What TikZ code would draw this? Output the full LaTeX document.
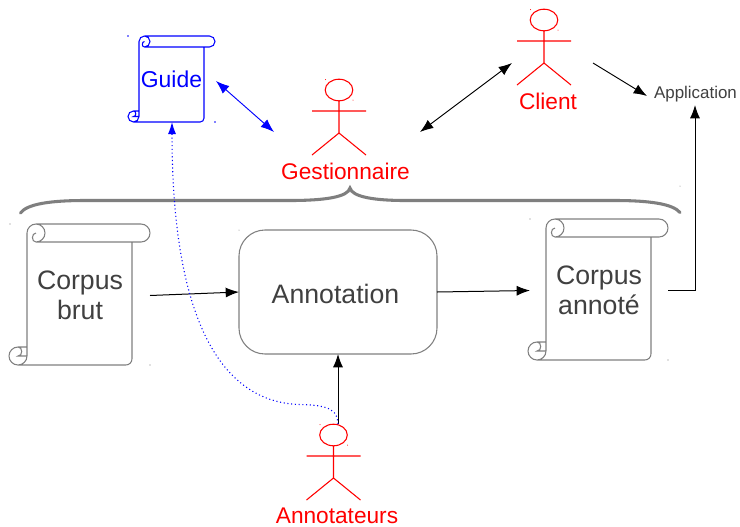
\documentclass[tikz,border=0pt]{standalone}
\usepackage{fontspec}
\setmainfont{Liberation Sans}
\usetikzlibrary{arrows.meta}
\definecolor{txtgray}{HTML}{404040}
\definecolor{linegray}{HTML}{808080}
\definecolor{bracegray}{HTML}{7F7F7F}
\tikzset{
  box/.style 2 args={draw=none,inner sep=0pt,outer sep=0pt,minimum width=#1*0.75pt,minimum height=#2*0.75pt,align=center},
  bigtxt/.style={font=\fontsize{20pt}{22.4pt}\selectfont,text=txtgray},
  redtxt/.style={font=\fontsize{17pt}{20pt}\selectfont,text=red,inner sep=0pt},
  tip/.style={-{Latex[length=10pt,width=7.5pt]}},
  twotip/.style={{Latex[length=10pt,width=7.5pt]}-{Latex[length=10pt,width=7.5pt]}},
  flow/.style={black,line width=0.75pt}
}
% scroll: L R T B barRight radius colour width
\newcommand{\scrollshape}[8]{%
  \draw[#7,line width=#8]
    (#1+#6,#3) -- (#5-#6,#3)
    .. controls (#5-#6*0.45,#3) and (#5,#3+#6*0.45) .. (#5,#3+#6)
    .. controls (#5,#3+#6*1.55) and (#5-#6*0.45,#3+#6*2) .. (#5-#6,#3+#6*2)
    -- (#1+#6,#3+#6*2)
    .. controls (#1+#6*0.45,#3+#6*2) and (#1+#6*0.5,#3+#6) .. (#1+#6,#3+#6)
    (#1+#6,#3)
    .. controls (#1+#6*1.55,#3) and (#1+#6*2,#3+#6*0.45) .. (#1+#6*2,#3+#6)
    .. controls (#1+#6*2,#3+#6*1.55) and (#1+#6*1.55,#3+#6*2) .. (#1+#6,#3+#6*2)
    (#1+#6,#3)
    .. controls (#1+#6*0.45,#3) and (#1,#3+#6*0.45) .. (#1,#3+#6)
    -- (#1,#4-#6)
    (#2,#3+#6*2) -- (#2,#4-#6*0.7)
    .. controls (#2,#4-#6*0.3) and (#2-#6*0.3,#4) .. (#2-#6*0.7,#4)
    -- (#1-#6,#4)
    .. controls (#1-#6*1.55,#4) and (#1-#6*2,#4-#6*0.45) .. (#1-#6*2,#4-#6)
    .. controls (#1-#6*2,#4-#6*1.55) and (#1-#6*1.55,#4-#6*2) .. (#1-#6,#4-#6*2)
    -- (#1,#4-#6*2)
    (#1-#6,#4-#6*2)
    .. controls (#1-#6*0.45,#4-#6*2) and (#1-#6*0.45,#4-#6) .. (#1-#6,#4-#6)
    -- (#1,#4-#6)
    (#1,#4-#6)
    .. controls (#1,#4-#6*0.45) and (#1-#6*0.45,#4) .. (#1-#6,#4);
}
% actor: centre x, head top y
\newcommand{\actorshape}[2]{%
  \draw[red,line width=0.8pt]
    (#1,#2+11) ellipse [x radius=13.8,y radius=10.8]
    (#1,#2+22) -- (#1,#2+54)
    (#1-27,#2+32) -- (#1+27,#2+32)
    (#1-27,#2+76) -- (#1,#2+54) -- (#1+27,#2+76);
  \fill[red] (#1-13.5,#2+0.5) circle (0.5) (#1+14,#2+21) circle (0.5);
}
\begin{document}
\begin{tikzpicture}[x=0.75pt,y=-0.75pt]
\useasboundingbox (0,0) rectangle (740,526);
\fill[white] (0,0) rectangle (740,526);

% brace
\draw[bracegray,line width=2.3pt,line cap=round]
  (20.5,213) .. controls (27,204) and (50,200.5) .. (85,200.5)
  -- (290,200.5) .. controls (325,200.5) and (348,197) .. (350,188)
  .. controls (352,197) and (375,200.5) .. (405,200.5)
  -- (615,200.5) .. controls (650,200.5) and (673,204) .. (680,212.5);

% scrolls
\scrollshape{27}{132}{224}{365}{150}{9}{linegray}{0.8pt}
\scrollshape{546}{651}{219}{360}{668}{9}{linegray}{0.8pt}
\scrollshape{139}{204}{36}{122}{215}{5.5}{blue}{0.8pt}

\node[box={140}{141},bigtxt] (brut) at (80,295.5) {Corpus\\brut};
\node[box={138}{141},bigtxt] (annote) at (599,290.5) {Corpus\\annoté};
\node[box={87}{86},font=\fontsize{17.2pt}{20pt}\selectfont,text=blue] (guide) at (171.5,79.5) {Guide};

% annotation box
\node[box={198}{124},draw=linegray,line width=0.8pt,rounded corners=19.5pt] (annotation) at (338,292) {};
\node[bigtxt,inner sep=0pt] (annotationlabel) at (335.5,293.5) {Annotation};

% actors
\actorshape{339}{79}
\actorshape{544}{9}
\actorshape{333.5}{424}
\node[box={54}{76}] (gestionnaire) at (339,117) {};
\node[box={54}{76}] (client) at (544,47) {};
\node[box={54}{76}] (annotateurs) at (333.5,462) {};
\node[redtxt] (gestlabel) at (345.5,171) {Gestionnaire};
\node[redtxt] (clientlabel) at (548,101.5) {Client};
\node[redtxt] (annotlabel) at (337,515.5) {Annotateurs};
\node[font=\fontsize{12.7pt}{15pt}\selectfont,text=txtgray,inner sep=0pt] (application) at (695.5,94.5) {Application};

% free ends of connectors
\coordinate (guidearrow) at (216,81);
\coordinate (gestleft) at (274,132);
\coordinate (gestright) at (420,132);
\coordinate (clientleft) at (512,63);
\coordinate (clientright) at (593,63);
\coordinate (appleft) at (647,96);
\coordinate (appbelow) at (695,105);
\coordinate (annotatop) at (338,424);

% connectors
\draw[flow,tip] (brut.east) -- (annotation.west);
\draw[flow,tip] (annotation.east) -- (annote.west);
\draw[flow,tip] (annote.east) -- (appbelow |- annote.east) -- (appbelow);
\draw[flow,tip] (annotatop) -- (annotation.south);
\draw[black,line width=0.7pt,tip] (clientright) -- (appleft);
\draw[black,line width=0.7pt,twotip] (gestright) -- (clientleft);
\draw[blue,line width=0.7pt,twotip] (guidearrow) -- (gestleft);
\draw[blue,line width=0.8pt,dotted,-{Latex[length=9pt,width=6pt,sep=0pt]}]
  (annotatop) .. controls (337,412) and (333,405) .. (300,404.5)
  .. controls (235,403) and (172,345) .. (172,122);

% selection specks
\fill[linegray] (10,224) circle (0.7) (150,365) circle (0.7) (530,219) circle (0.7) (668,360) circle (0.7) (239,230) circle (0.5) (680,186) circle (0.5);
\fill[blue] (128,36) circle (0.8) (215,122) circle (0.8);
\end{tikzpicture}
\end{document}
